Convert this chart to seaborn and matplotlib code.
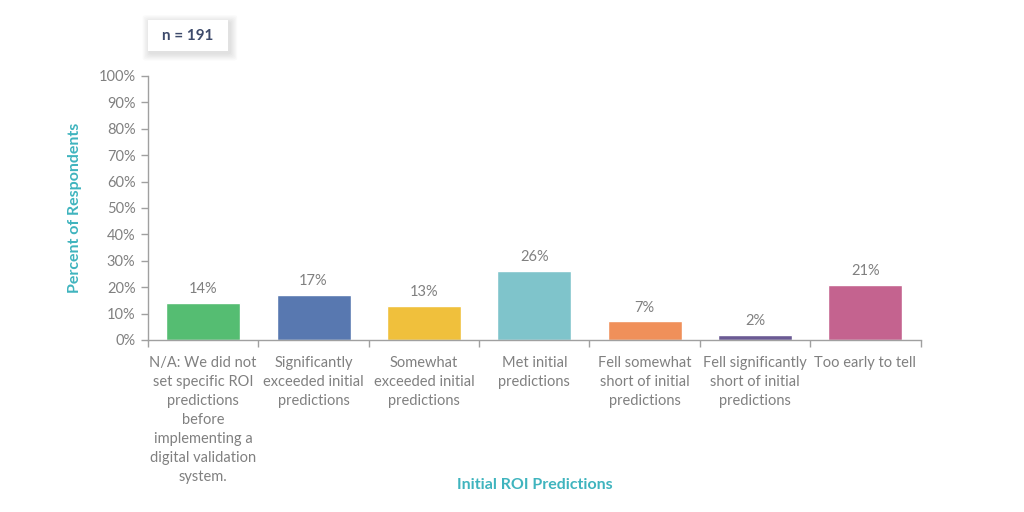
import matplotlib
matplotlib.use("Agg")
import matplotlib.pyplot as plt
from matplotlib.patches import FancyBboxPatch
from matplotlib.ticker import FixedLocator, PercentFormatter
import pandas as pd
import seaborn as sns

categories = [
    "N/A: We did not\nset specific ROI\npredictions\nbefore\nimplementing a\ndigital validation\nsystem.",
    "Significantly\nexceeded initial\npredictions",
    "Somewhat\nexceeded initial\npredictions",
    "Met initial\npredictions",
    "Fell somewhat\nshort of initial\npredictions",
    "Fell significantly\nshort of initial\npredictions",
    "Too early to tell",
]
percents = [14, 17, 13, 26, 7, 2, 21]
colors = ["#55BD72", "#5878B0", "#F0C03C", "#7FC4CB", "#F0905A", "#6B5A94", "#C4638F"]
y_ticks = list(range(0, 101, 10))

sns.set_style("white")
plt.rcParams["font.family"] = ["Lato", "DejaVu Sans"]

GREY = "#808080"
TEAL = "#3FB4BE"

df = pd.DataFrame({"category": categories, "percent": percents})

fig = plt.figure(figsize=(10.24, 5.12), dpi=100)
ax = fig.add_axes([0.1445, 0.336, 0.7545, 0.5156])

sns.barplot(
    data=df,
    x="category",
    y="percent",
    hue="category",
    palette=colors,
    saturation=1,
    width=0.67,
    legend=False,
    ax=ax,
)

for container in ax.containers:
    ax.bar_label(container, fmt="%d%%", padding=5, color=GREY, fontsize=10.5)

ax.set_ylim(0, 100)
ax.set_xlim(-0.5, len(categories) - 0.5)
ax.set_yticks(y_ticks)
ax.yaxis.set_major_formatter(PercentFormatter(decimals=0))

ax.tick_params(axis="y", which="major", left=True, length=5, width=1,
               color="#A0A0A0", labelcolor=GREY, labelsize=10.5, pad=4)
ax.tick_params(axis="x", which="major", bottom=False, labelcolor=GREY,
               labelsize=10.5, pad=8)
ax.xaxis.set_minor_locator(FixedLocator([i - 0.5 for i in range(len(categories) + 1)]))
ax.tick_params(axis="x", which="minor", bottom=True, length=5, width=1, color="#A0A0A0")

for label in ax.get_xticklabels():
    label.set_linespacing(1.45)
    label.set_verticalalignment("top")

for side in ["top", "right"]:
    ax.spines[side].set_visible(False)
for side in ["left", "bottom"]:
    ax.spines[side].set_color("#A0A0A0")
    ax.spines[side].set_linewidth(1)

ax.set_xlabel("")
ax.set_ylabel("")
fig.text(0.073, 0.594, "Percent of Respondents", rotation=90, ha="center", va="center",
         color=TEAL, fontsize=11.5, fontweight="bold")
fig.text(0.522, 0.052, "Initial ROI Predictions", ha="center", va="center",
         color=TEAL, fontsize=11.5, fontweight="bold")

# n box with a soft, blurred-looking shadow
bx, by, bw, bh = 0.1445, 0.90, 0.078, 0.06
for i in range(6, 0, -1):
    gx = i * 0.0012
    gy = i * 0.0024
    fig.patches.append(FancyBboxPatch(
        (bx - gx + 0.002, by - gy - 0.004), bw + 2 * gx, bh + 2 * gy,
        boxstyle="round,pad=0,rounding_size=0.004", transform=fig.transFigure,
        facecolor="#000000", edgecolor="none", alpha=0.018))
fig.patches.append(FancyBboxPatch(
    (bx, by), bw, bh, boxstyle="square,pad=0", transform=fig.transFigure,
    facecolor="white", edgecolor="none"))
fig.text(bx + bw / 2, by + bh / 2, "n = 191", ha="center", va="center", color="#3D4A6B",
         fontsize=11, fontweight="bold")

fig.savefig("out.png", dpi=100, facecolor="white")
